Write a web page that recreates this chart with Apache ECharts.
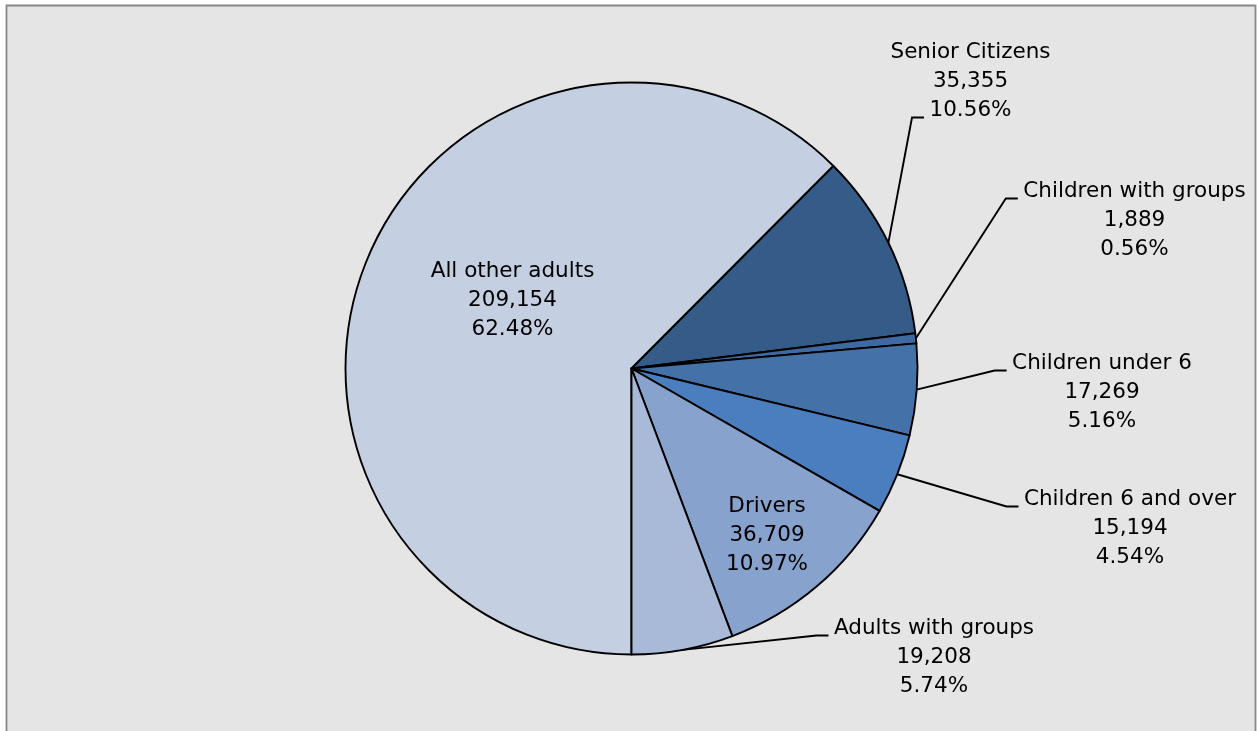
<!DOCTYPE html>
<html>
<head>
<meta charset="utf-8">
<script src="https://cdn.jsdelivr.net/npm/echarts@6/dist/echarts.min.js"></script>
<style>
html,body{margin:0;padding:0;background:#ffffff;}
#chart{width:1257px;height:731px;}
</style>
</head>
<body>
<div id="chart"></div>
<script>
// ---- data ----
const categories = ['All other adults', 'Senior Citizens', 'Children with groups', 'Children under 6', 'Children 6 and over', 'Drivers', 'Adults with groups'];
const values = [209154, 35355, 1889, 17269, 15194, 36709, 19208];
const sliceColors = ['#c4cfe2', '#355b88', '#3f6aa1', '#4571a9', '#4a7ebe', '#87a2cc', '#a9b9d8'];
const insideLabels = ['All other adults', 'Drivers'];

// ---- layout (positions / styles) ----
const FONT_SIZE = 21.5;
const FONT_FAMILY = '"DejaVu Sans"';
const LINE_H = 29;
const CX = 631.5, CY = 368.5, R = 286;
// centre x of label block, y of its middle line
const labelAnchor = {
  'All other adults': [512.5, 300],
  'Senior Citizens': [970.5, 81],
  'Children with groups': [1134.5, 220],
  'Children under 6': [1102, 392],
  'Children 6 and over': [1130, 528],
  'Drivers': [767, 535],
  'Adults with groups': [934, 657]
};
// which text line the leader line attaches to
const attachLine = { 'Senior Citizens': 2 };

const total = values.reduce((a, b) => a + b, 0);
const cum = [];
(function () { let acc = 0; values.forEach(v => { cum.push(acc); acc += v; }); })();

function fmtNum(n) { return n.toLocaleString('en-US'); }
function pct(i) { return (values[i] / total * 100).toFixed(2) + '%'; }
function labelText(i) { return categories[i] + '\n' + fmtNum(values[i]) + '\n' + pct(i); }

const mctx = document.createElement('canvas').getContext('2d');
mctx.font = FONT_SIZE + 'px ' + FONT_FAMILY;
function textW(s) { return mctx.measureText(s).width; }

function edgePoint(i) {
  const a0 = 180 + cum[i] / total * 360;
  const mid = a0 + values[i] / total * 180;
  const rad = mid * Math.PI / 180;
  return [CX + R * Math.sin(rad), CY - R * Math.cos(rad)];
}

const seriesData = categories.map((c, i) => {
  const inside = insideLabels.indexOf(c) >= 0;
  return {
    name: c,
    value: values[i],
    itemStyle: { color: sliceColors[i] },
    label: { position: inside ? 'inside' : 'outside' },
    labelLine: { show: !inside }
  };
});

const chart = echarts.init(document.getElementById('chart'), null, { renderer: 'canvas' });
chart.setOption({
  animation: false,
  backgroundColor: '#ffffff',
  graphic: [{
    type: 'rect',
    z: -10,
    silent: true,
    shape: { x: 6.5, y: 5.5, width: 1249, height: 800 },
    style: { fill: '#e5e5e5', stroke: '#888888', lineWidth: 1.8 }
  }],
  series: [{
    type: 'pie',
    center: [CX, CY],
    radius: [0, R],
    startAngle: -90,
    clockwise: true,
    avoidLabelOverlap: false,
    data: seriesData,
    itemStyle: { borderColor: '#000000', borderWidth: 1.9, borderJoin: 'round' },
    emphasis: { disabled: true },
    label: {
      show: true,
      formatter: p => labelText(p.dataIndex),
      color: '#000000',
      fontFamily: FONT_FAMILY,
      fontSize: FONT_SIZE,
      lineHeight: LINE_H,
      overflow: 'none'
    },
    labelLine: {
      show: true,
      smooth: false,
      lineStyle: { color: '#000000', width: 1.9 }
    },
    labelLayout: function (params) {
      const i = params.dataIndex;
      const name = categories[i];
      const pos = labelAnchor[name];
      const out = { x: pos[0], y: pos[1], align: 'center', verticalAlign: 'middle' };
      if (insideLabels.indexOf(name) < 0) {
        const lines = labelText(i).split('\n');
        const li = attachLine[name] != null ? attachLine[name] : 0;
        const lineY = pos[1] + (li - 1) * LINE_H;
        const left = pos[0] - textW(lines[li]) / 2;
        const end = [left - 5.5, lineY + 7.5];
        const elbow = [end[0] - 12, end[1]];
        out.labelLinePoints = [edgePoint(i), elbow, end];
      }
      return out;
    }
  }]
});
</script>
</body>
</html>
